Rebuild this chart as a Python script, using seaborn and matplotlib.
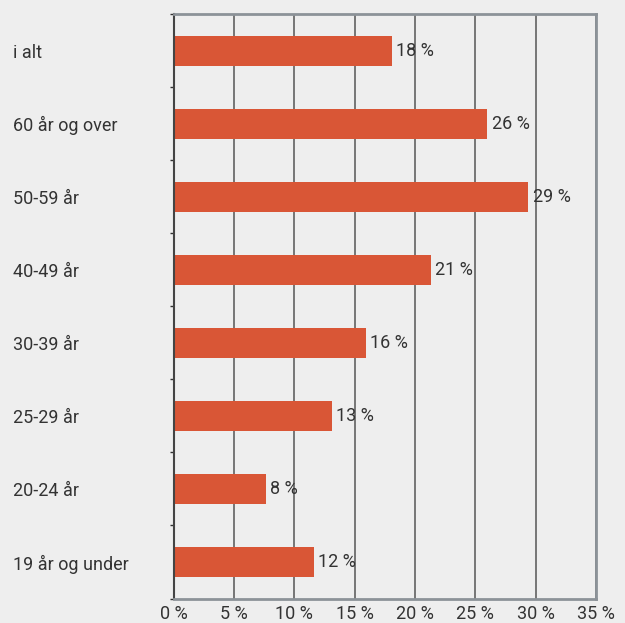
import matplotlib
matplotlib.use("Agg")
import matplotlib.pyplot as plt
import seaborn as sns
import pandas as pd
import numpy as np

categories = ["i alt", "60 år og over", "50-59 år", "40-49 år", "30-39 år",
              "25-29 år", "20-24 år", "19 år og under"]
values = [18.1, 26.0, 29.4, 21.3, 15.96, 13.14, 7.67, 11.65]
xticks = [0, 5, 10, 15, 20, 25, 30, 35]
xtick_labels = [f"{t} %" for t in xticks]

BG = "#eeeeee"
BAR = "#d95636"
TXT = "#333333"
FS = 13

sns.set_theme(style="white")
plt.rcParams["font.family"] = ["Roboto", "DejaVu Sans"]

fig = plt.figure(figsize=(6.25, 6.23), dpi=100, facecolor=BG)
ax = fig.add_axes([173.5 / 625, 1 - 598.5 / 623, (596 - 173.5) / 625, (598.5 - 14) / 623])
ax.set_facecolor(BG)

df = pd.DataFrame({"cat": categories, "val": values})
sns.barplot(data=df, x="val", y="cat", orient="h", color=BAR, width=0.41,
            saturation=1, linewidth=0, edgecolor=BAR, ax=ax, zorder=3)

ax.set_xlim(0, 35)
ax.set_ylim(len(categories) - 0.5, -0.5)
ax.set_xticks(xticks)
ax.set_xticklabels(xtick_labels, fontsize=FS, color=TXT)
ax.set_xlabel("")
ax.set_ylabel("")

ax.grid(axis="x", color="#555555", linewidth=1.1, zorder=1)
ax.grid(axis="y", visible=False)
ax.set_axisbelow(True)

for lbl in ax.get_yticklabels():
    lbl.set_horizontalalignment("left")
    lbl.set_fontsize(FS)
    lbl.set_color(TXT)
ax.tick_params(axis="y", which="major", length=0, pad=(173.5 - 13) * 72 / 100)
ax.set_yticks(np.arange(-0.5, len(categories) + 0.5, 1), minor=True)
ax.tick_params(axis="y", which="minor", length=3, width=1, color="#333333", left=True)
ax.tick_params(axis="x", which="major", length=0, pad=4.5)

for side in ["top", "right", "bottom"]:
    ax.spines[side].set_color("#8c9298")
    ax.spines[side].set_linewidth(2)
ax.spines["left"].set_color("#444444")
ax.spines["left"].set_linewidth(1.5)
for s in ax.spines.values():
    s.set_zorder(4)

for cont in ax.containers:
    ax.bar_label(cont, labels=[f"{round(v)} %" for v in values], padding=3,
                 fontsize=FS, color=TXT)

fig.savefig("out.png", dpi=100, facecolor=BG)
